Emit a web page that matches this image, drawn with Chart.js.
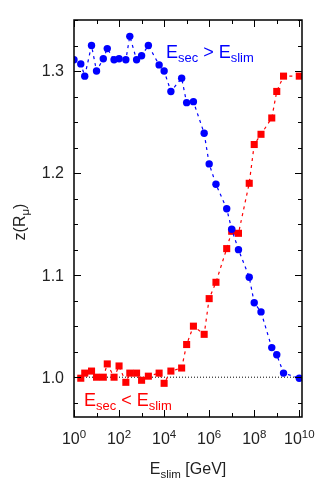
<!DOCTYPE html>
<html>
<head>
<meta charset="utf-8">
<script src="https://cdn.jsdelivr.net/npm/chart.js@4/dist/chart.umd.min.js"></script>
<style>
  html, body { margin: 0; padding: 0; background: #fff; }
  canvas { display: block; }
</style>
</head>
<body>
<canvas id="zChart" width="332" height="500"></canvas>
<script>
// E_slim values (GeV) and z(R_mu) for the two selections
const blueEnergy = [1, 2, 3, 6, 10, 20, 30, 60, 100, 200, 300, 600, 1e3, 2e3, 6e3,
  1e4, 2e4, 6e4, 1e5, 2e5, 6e5, 1e6, 2e6, 6e6, 1e7, 2e7, 6e7, 1e8, 2e8, 6e8, 1e9, 2e9, 1e10];
const blueZ = [1.311, 1.307, 1.295, 1.325, 1.300, 1.312, 1.322, 1.311, 1.312, 1.311, 1.334, 1.311, 1.315, 1.325, 1.306,
  1.300, 1.280, 1.293, 1.269, 1.270, 1.239, 1.209, 1.189, 1.165, 1.145, 1.125, 1.098, 1.073, 1.064, 1.029, 1.022, 1.004, 0.999];

const redEnergy = [2, 3, 6, 10, 20, 30, 60, 100, 200, 300, 600, 1e3, 2e3, 6e3,
  1e4, 2e4, 6e4, 1e5, 2e5, 6e5, 1e6, 2e6, 6e6, 1e7, 2e7, 6e7, 1e8, 2e8, 6e8, 1e9, 2e9, 1e10];
const redZ = [0.999, 1.004, 1.006, 1.000, 1.000, 1.013, 1.000, 1.011, 0.995, 1.004, 1.004, 0.997, 1.001, 1.004,
  0.994, 1.006, 1.009, 1.032, 1.050, 1.042, 1.077, 1.093, 1.126, 1.143, 1.141, 1.190, 1.228, 1.238, 1.254, 1.280, 1.295, 1.295];

const refEnergy = [1, 1e10];
const refZ = [1.0, 1.0];

const xExponents = [0, 2, 4, 6, 8, 10];
const yTickLabels = [1.0, 1.1, 1.2, 1.3];

const FONT = "'Liberation Sans', Arial, sans-serif";

function toPoints(xs, ys) {
  return xs.map((x, i) => ({ x: x, y: ys[i] }));
}

// draws text pieces, some of them as subscripts
function drawParts(ctx, parts, x, y, size, align) {
  let widths = parts.map(p => {
    ctx.font = (p[1] ? size * 0.72 : size) + "px " + FONT;
    return ctx.measureText(p[0]).width;
  });
  let total = widths.reduce((a, b) => a + b, 0);
  let cx = align === "center" ? x - total / 2 : x;
  ctx.textAlign = "left";
  ctx.textBaseline = "alphabetic";
  parts.forEach((p, i) => {
    ctx.font = (p[1] ? size * 0.72 : size) + "px " + FONT;
    ctx.fillText(p[0], cx, p[1] ? y + size * 0.22 : y);
    cx += widths[i];
  });
}

const framePlugin = {
  id: "frame",
  afterDraw(chart) {
    let ctx = chart.ctx;
    let a = chart.chartArea;
    let xs = chart.scales.x;
    let ys = chart.scales.y;
    ctx.save();
    ctx.strokeStyle = "#000";
    ctx.lineWidth = 1.5;
    ctx.strokeRect(a.left, a.top, a.right - a.left, a.bottom - a.top);

    ctx.lineWidth = 1;
    // x ticks, every decade, longer on even ones
    for (let e = 0; e <= 10; e++) {
      let px = Math.round(xs.getPixelForValue(Math.pow(10, e))) + 0.5;
      let len = e % 2 === 0 ? 7 : 4;
      ctx.beginPath();
      ctx.moveTo(px, a.bottom); ctx.lineTo(px, a.bottom - len);
      ctx.moveTo(px, a.top); ctx.lineTo(px, a.top + len);
      ctx.stroke();
    }
    // y ticks every 0.025
    for (let k = 39; k <= 54; k++) {
      let v = k * 0.025;
      let py = Math.round(ys.getPixelForValue(v)) + 0.5;
      if (py < a.top || py > a.bottom) continue;
      let len = k % 4 === 0 ? 7 : 4;
      ctx.beginPath();
      ctx.moveTo(a.left, py); ctx.lineTo(a.left + len, py);
      ctx.moveTo(a.right, py); ctx.lineTo(a.right - len, py);
      ctx.stroke();
    }

    ctx.fillStyle = "#222";
    // x tick labels 10^n
    xExponents.forEach(e => {
      let px = xs.getPixelForValue(Math.pow(10, e));
      ctx.font = "16px " + FONT;
      let w1 = ctx.measureText("10").width;
      ctx.font = "11.5px " + FONT;
      let w2 = ctx.measureText(String(e)).width;
      let left = px - (w1 + w2) / 2;
      ctx.textAlign = "left";
      ctx.textBaseline = "alphabetic";
      ctx.font = "16px " + FONT;
      ctx.fillText("10", left, 444);
      ctx.font = "11.5px " + FONT;
      ctx.fillText(String(e), left + w1, 438);
    });
    // y tick labels
    ctx.font = "16px " + FONT;
    ctx.textAlign = "right";
    ctx.textBaseline = "middle";
    yTickLabels.forEach(v => {
      ctx.fillText(v.toFixed(1), a.left - 10, ys.getPixelForValue(v) + 1);
    });

    // axis titles
    drawParts(ctx, [["E", false], ["slim", true], [" [GeV]", false]], 188, 474, 16, "center");
    ctx.save();
    ctx.translate(25, 222);
    ctx.rotate(-Math.PI / 2);
    drawParts(ctx, [["z(R", false], ["\u03bc", true], [")", false]], 0, 0, 16, "center");
    ctx.restore();

    // in-plot labels
    ctx.fillStyle = "#0000ff";
    drawParts(ctx, [["E", false], ["sec", true], [" > E", false], ["slim", true]], 166, 58, 18, "left");
    ctx.fillStyle = "#ff0000";
    drawParts(ctx, [["E", false], ["sec", true], [" < E", false], ["slim", true]], 84, 406, 18, "left");
    ctx.restore();
  }
};

let ctx = document.getElementById("zChart");
let chart = new Chart(ctx, {
  type: "line",
  data: {
    datasets: [
      {
        data: toPoints(blueEnergy, blueZ),
        borderColor: "#0000ff",
        backgroundColor: "#0000ff",
        borderWidth: 1.2,
        borderDash: [3, 4],
        pointStyle: "circle",
        pointRadius: 3.7,
        pointBorderWidth: 0
      },
      {
        data: toPoints(redEnergy, redZ),
        borderColor: "#ff0000",
        backgroundColor: "#ff0000",
        borderWidth: 1.2,
        borderDash: [3, 4],
        pointStyle: "rect",
        pointRadius: 5,
        pointBorderWidth: 0
      },
      {
        data: toPoints(refEnergy, refZ),
        borderColor: "#000",
        borderWidth: 1,
        borderDash: [1, 2],
        pointRadius: 0
      }
    ]
  },
  options: {
    responsive: false,
    animation: false,
    devicePixelRatio: 1,
    layout: { padding: { left: 74, right: 30, top: 20, bottom: 83 } },
    plugins: { legend: { display: false }, tooltip: { enabled: false } },
    scales: {
      x: { type: "logarithmic", min: 1, max: 1.32e10, display: false },
      y: { type: "linear", min: 0.961, max: 1.350, display: false }
    }
  },
  plugins: [framePlugin]
});
</script>
</body>
</html>
